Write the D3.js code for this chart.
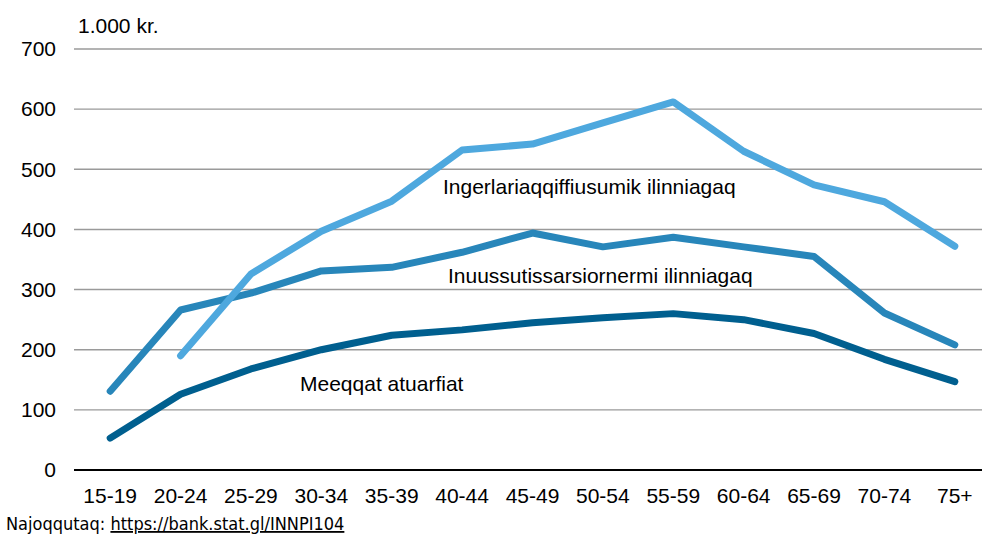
<!DOCTYPE html>
<html>
<head>
<meta charset="utf-8">
<script src="https://cdn.jsdelivr.net/npm/d3@7"></script>
<style>
  body { margin: 0; background: #fff; }
  text { font-family: "Liberation Sans", Arial, sans-serif; fill: #000; }
</style>
</head>
<body>
<div id="chart"></div>
<script>
// data
const ageGroups = ["15-19", "20-24", "25-29", "30-34", "35-39", "40-44", "45-49",
  "50-54", "55-59", "60-64", "65-69", "70-74", "75+"];
const meeqqat = [53, 126, 168, 200, 224, 233, 245, 253, 260, 250, 227, 184, 147];
const inuussutissarsiornermi = [131, 266, 294, 331, 337, 362, 394, 371, 387, 371, 355, 261, 208];
const ingerlariaqqiffiusumik = [null, 190, 326, 397, 447, 532, 542, 577, 612, 530, 474, 446, 372];
const yTicks = [0, 100, 200, 300, 400, 500, 600, 700];

const series = [
  { name: "Meeqqat atuarfiat", values: meeqqat, color: "#005f8f", label: [300, 391] },
  { name: "Inuussutissarsiornermi ilinniagaq", values: inuussutissarsiornermi, color: "#2886ba", label: [448, 283] },
  { name: "Ingerlariaqqiffiusumik ilinniagaq", values: ingerlariaqqiffiusumik, color: "#4ea8de", label: [443, 194] }
];

const width = 982, height = 536;
const margin = { top: 49, right: 0, bottom: 66, left: 74 };

const svg = d3.select("#chart").append("svg")
  .attr("width", width)
  .attr("height", height);

const x = d3.scalePoint()
  .domain(ageGroups)
  .range([75, 990])
  .padding(0.5);

const y = d3.scaleLinear()
  .domain([0, 700])
  .range([height - margin.bottom, margin.top]);

// gridlines
svg.append("g")
  .selectAll("line")
  .data(yTicks.filter(d => d > 0))
  .join("line")
  .attr("x1", margin.left)
  .attr("x2", width - margin.right)
  .attr("y1", d => y(d))
  .attr("y2", d => y(d))
  .attr("stroke", "#9a9a9a")
  .attr("stroke-width", 1.4);

// y labels
svg.append("g")
  .selectAll("text")
  .data(yTicks)
  .join("text")
  .attr("x", 56)
  .attr("y", d => y(d))
  .attr("dy", "0.35em")
  .attr("text-anchor", "end")
  .style("font-size", "21px")
  .text(d => d);

// baseline
svg.append("line")
  .attr("x1", margin.left)
  .attr("x2", width - margin.right)
  .attr("y1", y(0))
  .attr("y2", y(0))
  .attr("stroke", "#000")
  .attr("stroke-width", 2.2);

// x labels
svg.append("g")
  .selectAll("text")
  .data(ageGroups)
  .join("text")
  .attr("x", d => x(d))
  .attr("y", 503)
  .attr("text-anchor", "middle")
  .style("font-size", "21px")
  .text(d => d);

// unit
svg.append("text")
  .attr("x", 78)
  .attr("y", 33)
  .style("font-size", "21px")
  .text("1.000 kr.");

const line = d3.line()
  .defined(d => d.v != null)
  .x(d => x(d.age))
  .y(d => y(d.v));

series.forEach(s => {
  svg.append("path")
    .datum(ageGroups.map((a, i) => ({ age: a, v: s.values[i] })))
    .attr("fill", "none")
    .attr("stroke", s.color)
    .attr("stroke-width", 7)
    .attr("stroke-linejoin", "round")
    .attr("stroke-linecap", "round")
    .attr("d", line);

  svg.append("text")
    .attr("x", s.label[0])
    .attr("y", s.label[1])
    .style("font-size", "21px")
    .text(s.name);
});

// source
const src = svg.append("text")
  .attr("x", 6)
  .attr("y", 530)
  .style("font-family", "'Liberation Sans Narrow', 'DejaVu Sans Condensed', sans-serif")
  .style("font-stretch", "condensed")
  .style("font-size", "18px");
src.append("tspan").text("Najoqqutaq: ");
src.append("tspan")
  .style("text-decoration", "underline")
  .text("https://bank.stat.gl/INNPI104");
</script>
</body>
</html>
